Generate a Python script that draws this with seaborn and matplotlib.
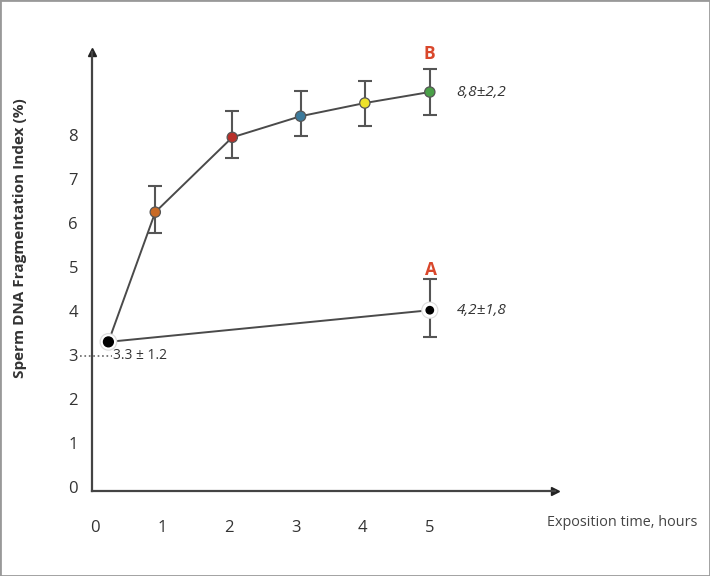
import numpy as np
import pandas as pd
import seaborn as sns
import matplotlib.pyplot as plt

# values
hours_b = [0.2, 0.9, 2.05, 3.07, 4.03, 5.0]
sdf_b = [3.3, 6.25, 7.95, 8.43, 8.73, 8.98]
err_b_low = [0, 0.48, 0.47, 0.45, 0.53, 0.53]
err_b_high = [0, 0.59, 0.60, 0.57, 0.50, 0.52]
point_colors = ['#111111', '#c86a26', '#b8302a', '#3b7a9c', '#eee22a', '#4aa048']

hours_a = [0.2, 5.0]
sdf_a = [3.3, 4.02]
err_a_low = [0, 0.61]
err_a_high = [0, 0.71]

ytick_vals = [0, 1, 2, 3, 4, 5, 6, 7, 8]
xtick_vals = [0, 1, 2, 3, 4, 5]

sns.set_style('white')
plt.rcParams['font.family'] = ['Open Sans', 'DejaVu Sans']

fig = plt.figure(figsize=(7.1, 5.76), dpi=100)
ax = fig.add_axes([92 / 710, 1 - 491 / 576, 463 / 710, 439 / 576])

line_col = '#4a4a4a'
df_b = pd.DataFrame({'hours': hours_b, 'sdf': sdf_b, 'step': range(len(hours_b))})
df_a = pd.DataFrame({'hours': hours_a, 'sdf': sdf_a})

sns.lineplot(data=df_b, x='hours', y='sdf', sort=False, estimator=None, color=line_col, lw=1.4, ax=ax, zorder=2)
sns.lineplot(data=df_a, x='hours', y='sdf', sort=False, estimator=None, color=line_col, lw=1.4, ax=ax, zorder=2)

# error bars
ax.errorbar(hours_b[1:], sdf_b[1:], yerr=[err_b_low[1:], err_b_high[1:]], fmt='none',
            ecolor='#555555', elinewidth=1.5, capsize=5, capthick=1.5, zorder=3)
ax.errorbar(hours_a[1:], sdf_a[1:], yerr=[err_a_low[1:], err_a_high[1:]], fmt='none',
            ecolor='#555555', elinewidth=1.5, capsize=5, capthick=1.5, zorder=3)

# coloured points on curve B
sns.scatterplot(data=df_b.iloc[1:], x='hours', y='sdf', hue='step', palette=point_colors[1:],
                s=55, edgecolor='#555555', linewidth=0.9, legend=False, ax=ax, zorder=4)
# start point and A point: black dots with a white halo
ax.scatter([hours_b[0], hours_a[1]], [sdf_b[0], sdf_a[1]], s=[140, 130], color='#dddddd', zorder=4, clip_on=False)
ax.scatter([hours_b[0], hours_a[1]], [sdf_b[0], sdf_a[1]], s=[100, 95], color='white', zorder=4, clip_on=False)
ax.scatter([hours_b[0], hours_a[1]], [sdf_b[0], sdf_a[1]], s=[50, 28], color='black', zorder=5, clip_on=False)

ax.set_xlim(-0.045, 6.87)
ax.set_ylim(-0.09, 9.89)
ax.set_xticks(xtick_vals)
ax.set_xticklabels([str(v) for v in xtick_vals])
ax.set_yticks(ytick_vals)
ax.set_yticklabels([str(v) for v in ytick_vals])
ax.tick_params(axis='x', direction='inout', length=10, width=1.3, colors='#555555', pad=16,
               labelsize=12, labelcolor='#333333')
ax.tick_params(axis='y', direction='out', length=5, width=1.3, colors='#555555', pad=5,
               labelsize=12, labelcolor='#333333')
ax.xaxis.get_major_ticks()[0].tick1line.set_visible(False)
ax.xaxis.get_major_ticks()[0].tick2line.set_visible(False)

for side in ['top', 'right']:
    ax.spines[side].set_visible(False)
for side in ['left', 'bottom']:
    ax.spines[side].set_color('#444444')
    ax.spines[side].set_linewidth(1.6)

# arrow heads
ax.plot(1, 0, '>', color='#222222', ms=6, transform=ax.transAxes, clip_on=False)
ax.plot(0, 1, '^', color='#222222', ms=6, transform=ax.transAxes, clip_on=False)

ax.set_xlabel('')
ax.set_ylabel('Sperm DNA Fragmentation Index (%)', fontsize=11, fontweight='bold', color='#333333')
ax.yaxis.set_label_coords(-0.14, 0.575)

fig.text(547 / 710, 1 - 523 / 576, 'Exposition time, hours', fontsize=10.4, color='#444444', va='center', ha='left')

# annotations
ax.text(5.0, 9.85, 'B', color='#d9472b', fontsize=12.5, fontweight='bold', ha='center', va='center')
ax.text(5.02, 4.93, 'A', color='#d9472b', fontsize=12.5, fontweight='bold', ha='center', va='center')
ax.text(5.4, 8.98, '8,8±2,2', fontsize=11, style='italic', color='#333333', va='center')
ax.text(5.4, 4.02, '4,2±1,8', fontsize=11, style='italic', color='#333333', va='center')
ax.plot([-0.22, 0.25], [2.98, 2.98], ls=':', color='#666666', lw=1.2, clip_on=False)
ax.text(0.27, 2.98, '3.3 ± 1.2', fontsize=10, color='#333333', va='center')

fig.patches.append(plt.Rectangle((0, 0), 1, 1, transform=fig.transFigure, fill=False,
                                 edgecolor='#999999', lw=2))

fig.savefig('out.png', dpi=100)
